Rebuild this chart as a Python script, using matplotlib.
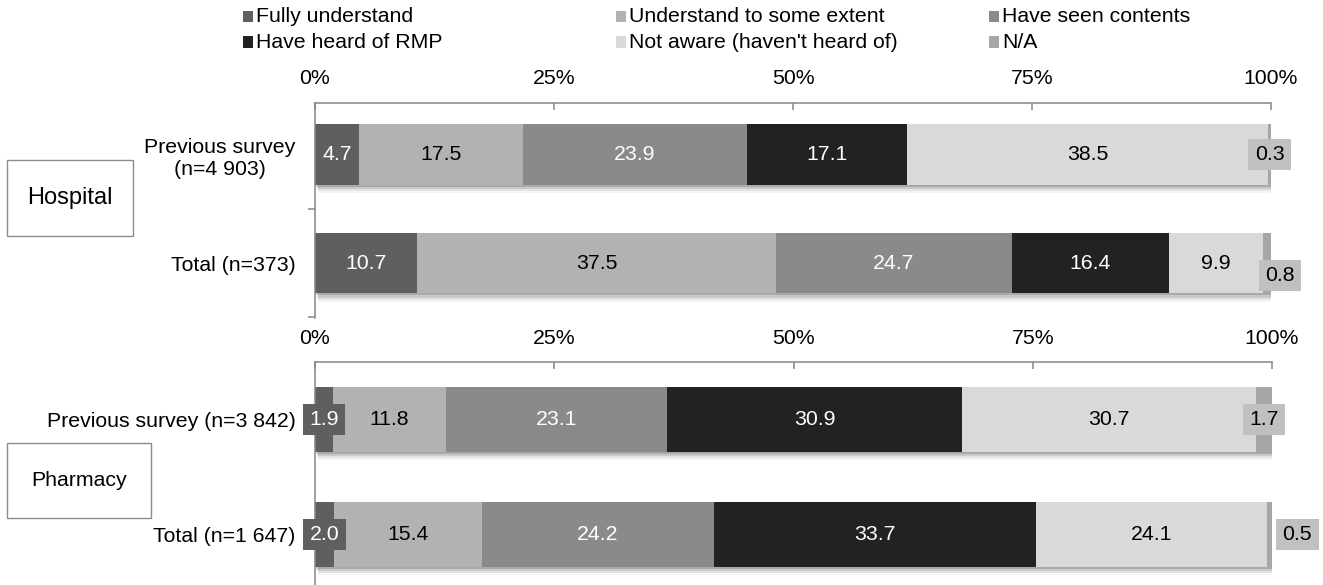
import matplotlib
matplotlib.use("Agg")
import matplotlib.pyplot as plt
import matplotlib.patheffects as pe
from matplotlib.patches import Rectangle
import numpy as np

plt.rcParams["font.family"] = ["Liberation Sans", "DejaVu Sans"]

# ---- data -------------------------------------------------------------
categories = ["Fully understand", "Understand to some extent", "Have seen contents",
              "Have heard of RMP", "Not aware (haven't heard of)", "N/A"]
colors = ["#5f5f5f", "#b2b2b2", "#8a8a8a", "#222222", "#d9d9d9", "#a6a6a6"]
text_colors = ["white", "black", "white", "white", "black", "black"]

hospital_rows = ["Previous survey\n(n=4 903)", "Total (n=373)"]
hospital_prev = [4.7, 17.5, 23.9, 17.1, 38.5, 0.3]
hospital_total = [10.7, 37.5, 24.7, 16.4, 9.9, 0.8]

pharmacy_rows = ["Previous survey (n=3 842)", "Total (n=1 647)"]
pharmacy_prev = [1.9, 11.8, 23.1, 30.9, 30.7, 1.7]
pharmacy_total = [2.0, 15.4, 24.2, 33.7, 24.1, 0.5]

xticks = [0, 25, 50, 75, 100]
xticklabels = ["0%", "25%", "50%", "75%", "100%"]

FS = 15.3
W, H = 1323, 585
fig = plt.figure(figsize=(W / 100, H / 100), dpi=100)


def fx(px):
    return px / W


def fy(py):
    return 1 - py / H


# soft drop shadow under each bar
shadow = [
    pe.SimplePatchShadow(offset=(1.0, -1.5), shadow_rgbFace="black", alpha=0.16),
    pe.SimplePatchShadow(offset=(1.5, -3.0), shadow_rgbFace="black", alpha=0.11),
    pe.SimplePatchShadow(offset=(2.0, -4.5), shadow_rgbFace="black", alpha=0.07),
    pe.SimplePatchShadow(offset=(2.0, -6.0), shadow_rgbFace="black", alpha=0.04),
    pe.Normal(),
]


def draw_panel(ax, rows, series, ylim, label_nudges, small_boxes, pad):
    # first row on top, second row below
    ypos = [1, 0]
    for r, vals in enumerate(series):
        vals = np.asarray(vals, dtype=float)
        shares = vals / vals.sum() * 100
        left = 0.0
        for i, (v, s) in enumerate(zip(vals, shares)):
            ax.barh(ypos[r], s, left=left, height=0.56, color=colors[i],
                    edgecolor="none", path_effects=shadow, zorder=2)
            cx = left + s / 2
            key = (r, i)
            dx, dy = label_nudges.get(key, (0, 0))
            kw = dict(textcoords="offset points", ha="center", va="center",
                      fontsize=FS, color=text_colors[i], zorder=5)
            if key in small_boxes:
                kw["bbox"] = dict(boxstyle="square,pad=0.3", fc=small_boxes[key],
                                  ec="none")
            ax.annotate(f"{v:.1f}", (cx, ypos[r]), xytext=(dx, dy), **kw)
            left += s
    ax.set_xlim(0, 100)
    ax.set_ylim(*ylim)
    ax.set_yticks(ypos)
    ax.set_yticklabels(rows, fontsize=FS)
    for t in ax.get_yticklabels():
        t.set_multialignment("center")
    ax.tick_params(axis="y", length=0, pad=14)
    ax.xaxis.tick_top()
    ax.set_xticks(xticks)
    ax.set_xticklabels(xticklabels, fontsize=FS)
    ax.tick_params(axis="x", direction="in", length=5, width=1.1, color="#868686",
                   pad=pad)
    for side in ("right", "bottom"):
        ax.spines[side].set_visible(False)
    for side in ("left", "top"):
        ax.spines[side].set_color("#868686")
        ax.spines[side].set_linewidth(1.1)
    ax.set_facecolor("none")


# top panel: hospital
ax1 = fig.add_axes([fx(315), fy(318), fx(1271 - 315), fy(103) - fy(318)])
draw_panel(ax1, hospital_rows, [hospital_prev, hospital_total], (-0.507, 1.475),
           {(1, 5): (9, -9)},
           {(0, 5): "#c0c0c0", (1, 5): "#c0c0c0"}, pad=11)
ax1.set_yticks([-0.5, 0.5], minor=True)
ax1.tick_params(axis="y", which="minor", length=5, width=1.1, color="#868686")

# bottom panel: pharmacy
ax2 = fig.add_axes([fx(315), 0, fx(1272 - 315), fy(362)])
draw_panel(ax2, pharmacy_rows, [pharmacy_prev, pharmacy_total], (-0.439, 1.5),
           {(1, 5): (20, 0)},
           {(0, 0): "#5f5f5f", (1, 0): "#5f5f5f",
            (0, 5): "#c0c0c0", (1, 5): "#c0c0c0"}, pad=10)

# group boxes
for name, size, (x0, y0, x1, y1) in [("Hospital", 17, (7, 160, 133, 236)),
                                     ("Pharmacy", FS, (7, 443, 151, 518))]:
    fig.patches.append(Rectangle((fx(x0), fy(y1)), fx(x1 - x0), fy(y0) - fy(y1),
                                 transform=fig.transFigure, fc="white",
                                 ec="#8c8c8c", lw=1.0))
    fig.text(fx((x0 + x1) / 2), fy((y0 + y1) / 2), name, ha="center", va="center",
             fontsize=size)

# legend laid out in two rows of three equal-width columns
legend_cols = [243, 616, 989]
legend_rows = [16, 42]
for k, cat in enumerate(categories):
    col, row = k % 3, k // 3
    x, y = legend_cols[col], legend_rows[row]
    fig.patches.append(Rectangle((fx(x), fy(y + 5.5)), fx(10), fy(y - 5.5) - fy(y + 5.5),
                                 transform=fig.transFigure, fc=colors[k], ec="none"))
    fig.text(fx(x + 13), fy(y), cat, ha="left", va="center", fontsize=FS)

fig.savefig("out.png", dpi=100)
